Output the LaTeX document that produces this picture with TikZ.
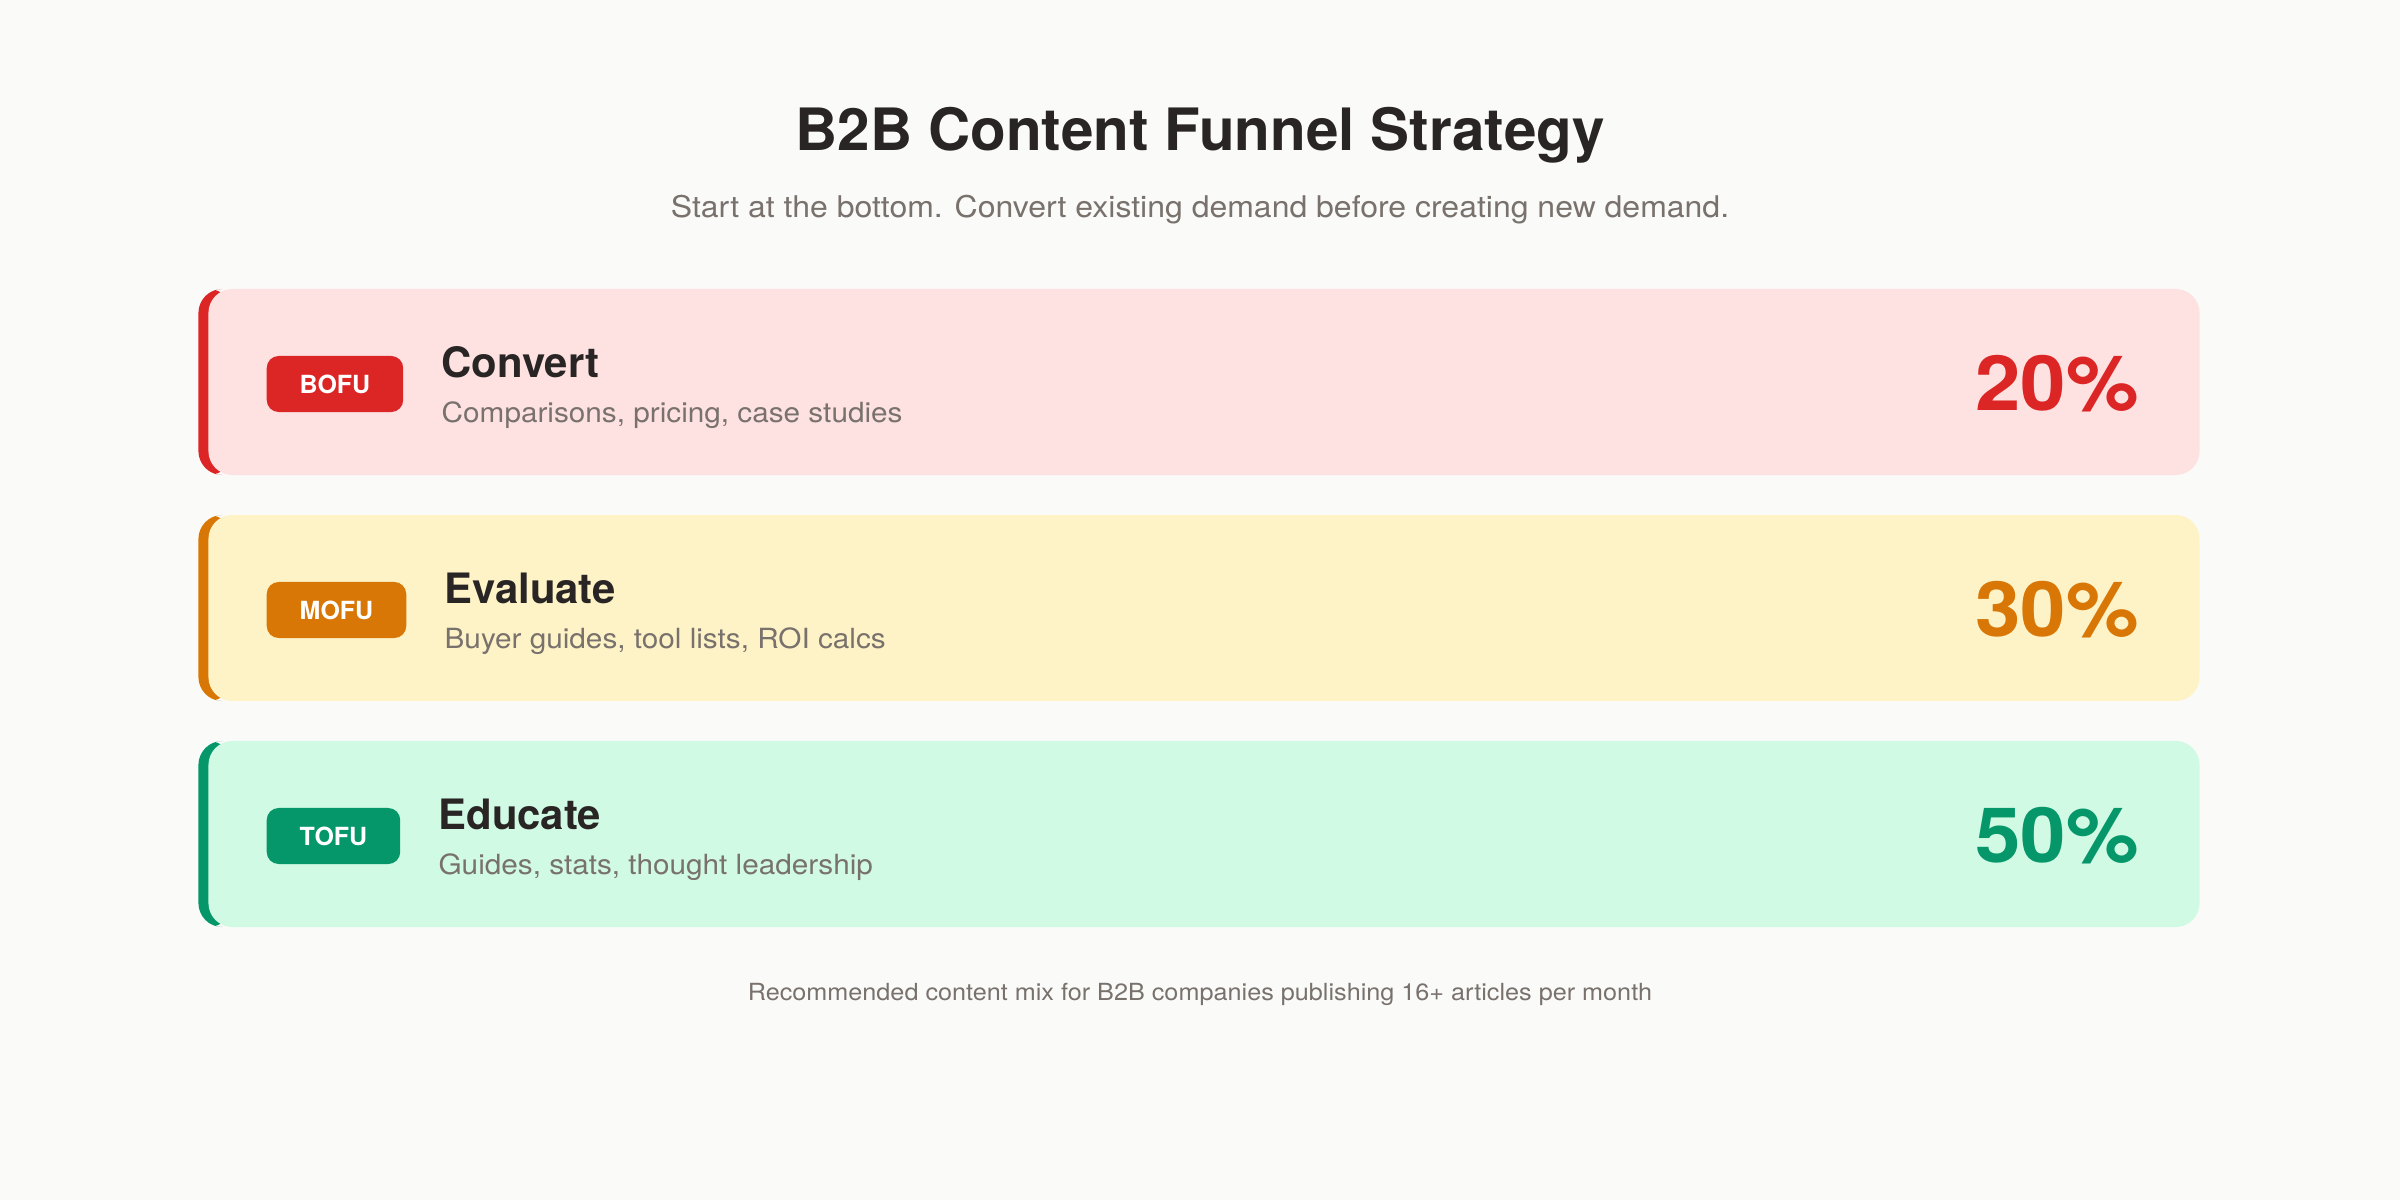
\documentclass[tikz,border=0pt]{standalone}
\usepackage{fontspec}
\setmainfont{TeX Gyre Heros}
\newfontfamily\widefont[FakeStretch=1.07]{TeX Gyre Heros}
\usepackage{tikz}
\usetikzlibrary{calc}
\usetikzlibrary{positioning}

\definecolor{pagebg}{HTML}{FAFAF9}
\definecolor{ink}{HTML}{292524}
\definecolor{muted}{HTML}{78716C}
\definecolor{bofuacc}{HTML}{DC2626}
\definecolor{bofubg}{HTML}{FEE2E2}
\definecolor{mofuacc}{HTML}{D97706}
\definecolor{mofubg}{HTML}{FEF3C7}
\definecolor{tofuacc}{HTML}{059669}
\definecolor{tofubg}{HTML}{D1FAE5}

\tikzset{
  card/.style 2 args = {rectangle, rounded corners=0.24cm, inner sep=0,
    minimum width=20cm, minimum height=1.86cm,
    path picture={
      \fill[#1] (path picture bounding box.south west) rectangle ([xshift=0.34cm]path picture bounding box.north west);
      \fill[#2, rounded corners=0.24cm] ([xshift=0.1cm]path picture bounding box.south west)
        rectangle ([xshift=1cm]path picture bounding box.north east);
    }},
  badge/.style = {rectangle, rounded corners=0.12cm, fill=#1, text=white,
    font=\fontsize{7.1pt}{8pt}\selectfont\bfseries, inner xsep=0.33cm,
    minimum height=0.56cm, anchor=west},
  stage/.style = {anchor=base west, text=ink, inner sep=0,
    font=\fontsize{11.9pt}{14pt}\selectfont\bfseries},
  desc/.style = {anchor=base west, text=muted, inner sep=0,
    font=\widefont\fontsize{7.9pt}{10pt}\selectfont},
  pct/.style = {anchor=base east, text=#1, inner sep=0,
    font=\widefont\fontsize{21.7pt}{26pt}\selectfont\bfseries},
}

\begin{document}
\begin{tikzpicture}[x=0.01cm, y=-0.01cm]
\fill[pagebg] (0,0) rectangle (2400,1200);
\useasboundingbox (0,0) rectangle (2400,1200);

% heading
\node [anchor=base, text=ink, inner sep=0, font=\fontsize{16.6pt}{20pt}\selectfont\bfseries] (title) at (1200,150) {B2B Content Funnel Strategy};
\node [anchor=base, text=muted, inner sep=0, font=\widefont\fontsize{8.5pt}{11pt}\selectfont] (subtitle) at (1200,217) {Start at the bottom. Convert existing demand before creating new demand.};

% bottom of funnel
\node [card={bofuacc}{bofubg}] (bofucard) at (1199,382) {};
\node [badge=bofuacc] (bofu) at (266,384) {BOFU};
\node [stage] (convert) at ($(bofu.east)+(37,-7)$) {Convert};
\node [desc] (convertdesc) at ($(convert.base west)+(0,45)$) {Comparisons, pricing, case studies};
\node [pct=bofuacc] (bofupct) at ($(bofucard.east)+(-61,28)$) {20\%};

% middle of funnel
\node [card={mofuacc}{mofubg}] (mofucard) at (1199,608) {};
\node [badge=mofuacc] (mofu) at (266,610) {MOFU};
\node [stage] (evaluate) at ($(mofu.east)+(37,-7)$) {Evaluate};
\node [desc] (evaluatedesc) at ($(evaluate.base west)+(0,45)$) {Buyer guides, tool lists, ROI calcs};
\node [pct=mofuacc] (mofupct) at ($(mofucard.east)+(-61,28)$) {30\%};

% top of funnel
\node [card={tofuacc}{tofubg}] (tofucard) at (1199,834) {};
\node [badge=tofuacc] (tofu) at (266,836) {TOFU};
\node [stage] (educate) at ($(tofu.east)+(37,-7)$) {Educate};
\node [desc] (educatedesc) at ($(educate.base west)+(0,45)$) {Guides, stats, thought leadership};
\node [pct=tofuacc] (tofupct) at ($(tofucard.east)+(-61,28)$) {50\%};

\node [anchor=base, text=muted, inner sep=0, font=\widefont\fontsize{6.7pt}{8pt}\selectfont] (footer) at (1200,1000) {Recommended content mix for B2B companies publishing 16+ articles per month};
\end{tikzpicture}
\end{document}
